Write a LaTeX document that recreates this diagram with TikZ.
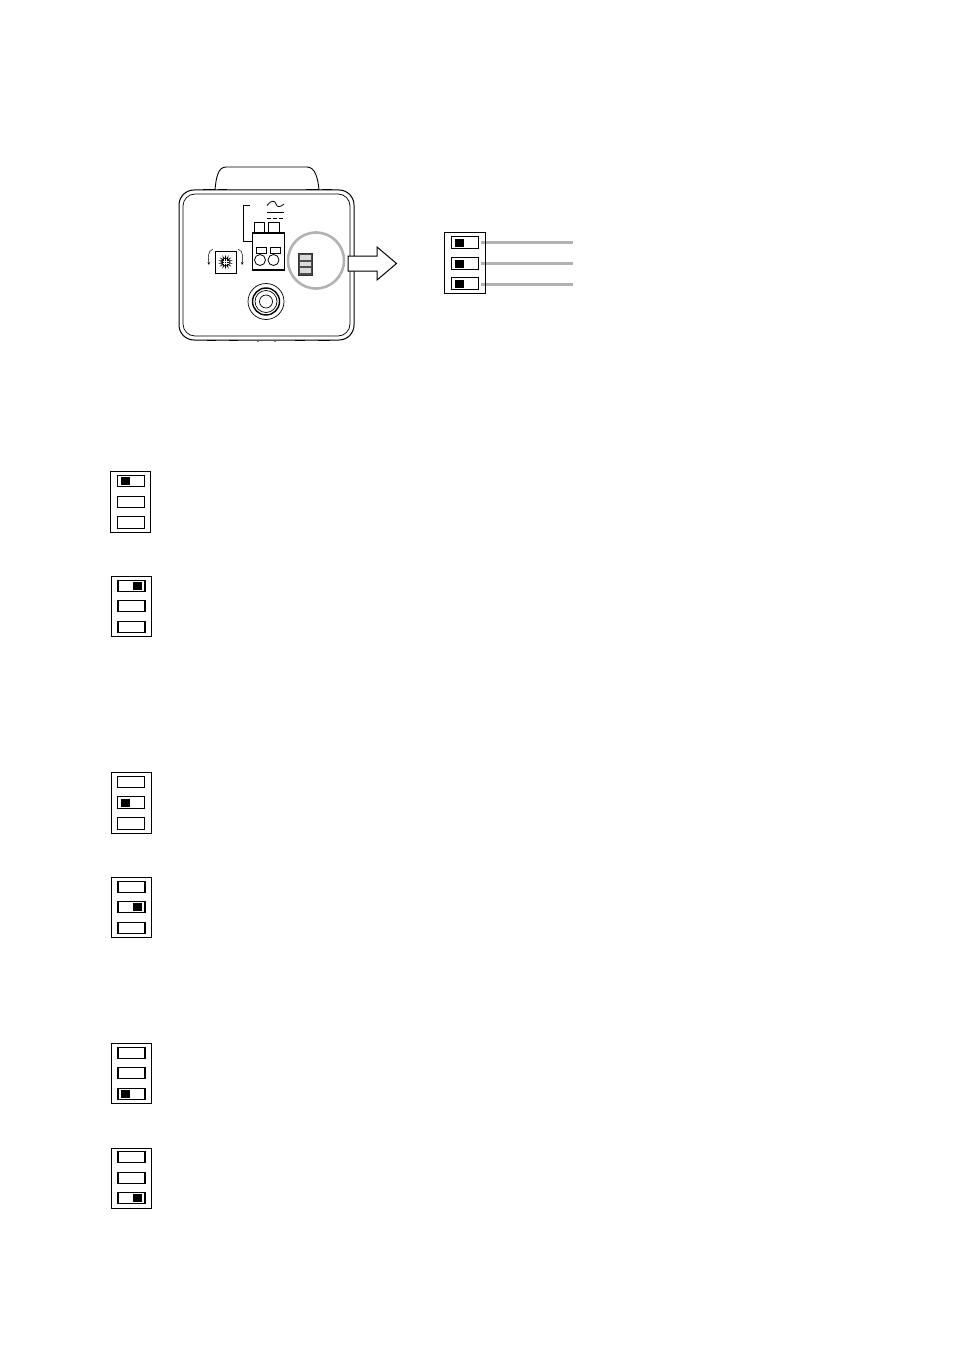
\documentclass[tikz,border=0pt]{standalone}
\usepackage{amsmath}
\usepackage{amssymb}
\usetikzlibrary{arrows.meta,shapes.geometric}

\begin{document}
\begin{tikzpicture}[x=1pt,y=-1pt,
	dipbox/.style={rectangle,draw,line width=1pt,inner sep=0pt,minimum width=40.5pt,minimum height=60pt},
	dipslot/.style={rectangle,draw,fill=white,line width=1.2pt,inner sep=0pt,minimum width=27pt,minimum height=11.5pt},
	dipknob/.style={rectangle,fill=black,inner sep=0pt,minimum width=9pt,minimum height=8pt},
	termpart/.style={rectangle,draw,fill=white,line width=0.8pt,inner sep=0pt},
	panelbar/.style={rectangle,fill=black!15,inner sep=0pt,minimum width=11pt,minimum height=4.5pt},
	ring/.style={circle,draw,inner sep=0pt}]
		\useasboundingbox (0,0) rectangle (954,1351);
		
		% camera rear
		\draw [line width=0.9pt,fill=white] (215,190) .. controls (216,178) and (218,167) .. (226,167) -- (307,167) .. controls (315,167) and (318,178) .. (319,190);
		\draw [line width=1pt,rounded corners=15pt] (179,190) rectangle (354,340);
		\draw [line width=0.7pt,rounded corners=12pt] (183,194) rectangle (350,336);
		\draw [line width=1.6pt] (203,189.5) -- (215,189.5) (218,189.5) -- (227,189.5) (306,189.5) -- (318,189.5) (322,189.5) -- (332,189.5);
		\draw [line width=1.6pt] (207,340.5) -- (216,340.5) (229,340.5) -- (238,340.5) (295,340.5) -- (305,340.5) (318,340.5) -- (330,340.5);
		\draw [line width=0.8pt,gray] (257,341) -- (259,341) (274,341) -- (276,341);
		
		% power terminal
		\node [termpart,minimum width=9.5pt,minimum height=11pt] (TL) at (259.5,227.5) {};
		\node [termpart,minimum width=11pt,minimum height=11pt] (TR) at (273.5,227.5) {};
		\node [termpart,line width=1.1pt,minimum width=32.5pt,minimum height=37pt] (TB) at (268.5,251.5) {};
		\node [termpart,minimum width=10pt,minimum height=6pt] (SL) at (261.5,250) {};
		\node [termpart,minimum width=10pt,minimum height=6pt] (SR) at (275.5,250) {};
		\node [ring,line width=0.8pt,minimum size=11pt] (HL) at (260,260) {};
		\node [ring,line width=0.8pt,minimum size=11pt] (HR) at (273.5,260) {};
		\coordinate (BT) at (250,205);
		\draw [line width=0.8pt] (BT) -| (243,241) -- (TB.west |- 0,241);
		\draw [line width=0.8pt] (267,205.5) .. controls (271,200) and (275,200) .. (276,204) .. controls (277,208) and (281,207) .. (284,204);
		\draw [line width=0.8pt] (267,212) -- (284,212);
		\draw [line width=0.8pt,dash pattern=on 4pt off 2pt] (267,218) -- (284,218);
		
		% rotary switch
		\node [rectangle,draw,line width=0.9pt,inner sep=0pt,minimum width=21pt,minimum height=22pt] (RS) at (225.5,262) {};
		\node [star,star points=14,star point ratio=2.2,fill=black,inner sep=0pt,minimum size=15pt] (RC) at (225.5,262) {};
		\draw [white,line width=0.5pt] (RC.center) ++(-3,-1.2) -- ++(6,0) (RC.center) ++(-3,1.2) -- ++(6,0) (RC.center) ++(-1.2,-3) -- ++(0,6) (RC.center) ++(1.2,-3) -- ++(0,6);
		\draw [line width=0.5pt,-{Stealth[length=3pt,width=2.5pt]}] (213,249) to[out=200, in=95] (209,265);
		\draw [line width=0.5pt,-{Stealth[length=3pt,width=2.5pt]}] (238,249) to[out=-20, in=85] (242,265);
		
		% lens mount
		\node [ring,line width=0.7pt,minimum size=36pt] (M1) at (266,301.5) {};
		\node [ring,line width=1.4pt,minimum size=27pt] (M2) at (266,301.5) {};
		\node [ring,line width=0.7pt,minimum size=22pt] (M3) at (266,301.5) {};
		\node [ring,line width=0.7pt,minimum size=13pt] (M4) at (266,301.5) {};
		
		% small switch in the circle
		\node [rectangle,draw=black!80,fill=black!70,line width=0.8pt,inner sep=0pt,minimum width=14pt,minimum height=22pt] (DS) at (305.5,264) {};
		\node [panelbar] (D1) at (305.5,257.5) {};
		\node [panelbar] (D2) at (305.5,264) {};
		\node [panelbar] (D3) at (305.5,270.5) {};
		\node [ring,draw=black!30,line width=2.6pt,minimum size=56pt] (GC) at (316,260.5) {};
		
		% big arrow
		\draw [line width=1pt,fill=white] (348,256) -- (377,256) -- (377,247) -- (396.5,263.5) -- (377,280) -- (377,271) -- (348,271) -- cycle;
		
		% detail of the switch
		\node [dipslot] (A1) at (465,242.5) {};
		\node [dipslot] (A2) at (465,263.5) {};
		\node [dipslot] (A3) at (465,283.5) {};
		\node [dipknob] at (459,242.5) (K1) {};
		\node [dipknob] at (459,263.5) (K2) {};
		\node [dipknob] at (459,283.5) (K3) {};
		\coordinate (L1) at (573,242);
		\coordinate (L2) at (573,263);
		\coordinate (L3) at (573,284);
		\tikzstyle{leader} = [line width=3pt,color=black!30]
		\draw [leader] ([xshift=2pt]A1.east |- L1) -- (L1);
		\draw [leader] ([xshift=2pt]A2.east |- L2) -- (L2);
		\draw [leader] ([xshift=2pt]A3.east |- L3) -- (L3);
		\node [dipbox,minimum height=61pt] (DB) at (465,262.5) {};
		
		% settings
		\node [dipbox,minimum height=61pt] (B1) at (130.5,501.5) {};
		\node [dipslot] (B1a) at (131,481) {};
		\node [dipslot] (B1b) at (131,502) {};
		\node [dipslot] (B1c) at (131,522.5) {};
		\node [dipknob] (B1k) at (125,481) {};
		
		\node [dipbox] (B2) at (131.5,606) {};
		\node [dipslot] (B2a) at (131.5,586) {};
		\node [dipslot] (B2b) at (131.5,606) {};
		\node [dipslot] (B2c) at (131.5,627) {};
		\node [dipknob] (B2k) at (137.5,586) {};
		
		\node [dipbox,minimum height=61pt] (B3) at (131.5,802.5) {};
		\node [dipslot] (B3a) at (131,782) {};
		\node [dipslot] (B3b) at (131,802.5) {};
		\node [dipslot] (B3c) at (131,823.5) {};
		\node [dipknob] (B3k) at (125,802.5) {};
		
		\node [dipbox] (B4) at (131.5,907) {};
		\node [dipslot] (B4a) at (131.5,887) {};
		\node [dipslot] (B4b) at (131.5,907) {};
		\node [dipslot] (B4c) at (131.5,928) {};
		\node [dipknob] (B4k) at (137.5,907) {};
		
		\node [dipbox] (B5) at (131.5,1073) {};
		\node [dipslot] (B5a) at (131.5,1053) {};
		\node [dipslot] (B5b) at (131.5,1073) {};
		\node [dipslot] (B5c) at (131.5,1094) {};
		\node [dipknob] (B5k) at (125.5,1094) {};
		
		\node [dipbox] (B6) at (131.5,1178) {};
		\node [dipslot] (B6a) at (131.5,1157) {};
		\node [dipslot] (B6b) at (131.5,1178) {};
		\node [dipslot] (B6c) at (131.5,1198) {};
		\node [dipknob] (B6k) at (137.5,1198) {};
		
	\end{tikzpicture}
\end{document}
